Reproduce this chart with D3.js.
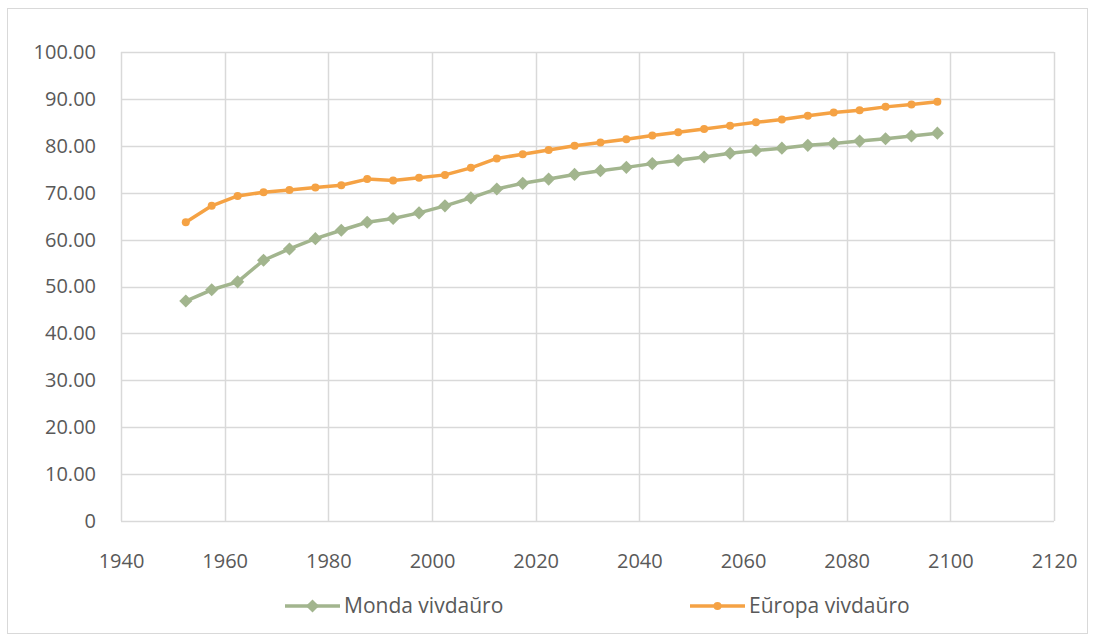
<!DOCTYPE html>
<html>
<head>
<meta charset="utf-8">
<script src="https://cdn.jsdelivr.net/npm/d3@7"></script>
<style>
  html, body { margin: 0; padding: 0; background: #fff; }
  svg { display: block; }
  text { font-family: "Open Sans", "Noto Sans", sans-serif; fill: #595959; }
</style>
</head>
<body>
<svg id="chart" width="1096" height="643"></svg>
<script>
// Mid-points of each five-year period
const years = [1952.5, 1957.5, 1962.5, 1967.5, 1972.5, 1977.5, 1982.5, 1987.5, 1992.5, 1997.5,
               2002.5, 2007.5, 2012.5, 2017.5, 2022.5, 2027.5, 2032.5, 2037.5, 2042.5, 2047.5,
               2052.5, 2057.5, 2062.5, 2067.5, 2072.5, 2077.5, 2082.5, 2087.5, 2092.5, 2097.5];
// Life expectancy, world
const mondaValues = [46.9, 49.3, 51.0, 55.6, 58.0, 60.2, 62.0, 63.7, 64.5, 65.7,
                     67.2, 68.9, 70.8, 72.0, 72.9, 73.9, 74.7, 75.4, 76.2, 76.9,
                     77.6, 78.4, 79.0, 79.5, 80.1, 80.5, 81.0, 81.5, 82.1, 82.7];
// Life expectancy, Europe
const europaValues = [63.7, 67.2, 69.3, 70.1, 70.6, 71.1, 71.6, 72.9, 72.6, 73.2,
                      73.8, 75.3, 77.3, 78.2, 79.1, 80.0, 80.7, 81.4, 82.2, 82.9,
                      83.6, 84.3, 85.0, 85.6, 86.4, 87.1, 87.6, 88.3, 88.8, 89.4];
const xTicks = [1940, 1960, 1980, 2000, 2020, 2040, 2060, 2080, 2100, 2120];
const yTicks = [0, 10, 20, 30, 40, 50, 60, 70, 80, 90, 100];
const seriesNames = ["Monda vivdaŭro", "Eŭropa vivdaŭro"];

const svg = d3.select("#chart");
const W = 1096, H = 643;
const margin = { left: 121, right: 42, top: 52, bottom: 122 };
const grid = "#d9d9d9";

// chart frame
svg.append("rect").attr("x", 7.5).attr("y", 8.5).attr("width", 1080).attr("height", 625)
  .attr("fill", "#fff").attr("stroke", grid).attr("stroke-width", 1);

const x = d3.scaleLinear().domain([1940, 2120]).range([margin.left, W - margin.right]);
const y = d3.scaleLinear().domain([0, 100]).range([H - margin.bottom, margin.top]);

// gridlines
const g = svg.append("g");
g.selectAll(".hg").data(yTicks).join("line")
  .attr("x1", x(1940)).attr("x2", x(2120))
  .attr("y1", d => Math.round(y(d)) + 0.5).attr("y2", d => Math.round(y(d)) + 0.5)
  .attr("stroke", grid).attr("stroke-width", 1.5);
g.selectAll(".vg").data(xTicks).join("line")
  .attr("x1", d => Math.round(x(d)) + 0.5).attr("x2", d => Math.round(x(d)) + 0.5)
  .attr("y1", y(0)).attr("y2", y(100))
  .attr("stroke", grid).attr("stroke-width", 1.5);

// axes (labels only, lines drawn as grid)
const yAxis = d3.axisLeft(y).tickValues(yTicks)
  .tickFormat(d => d === 0 ? "0" : d3.format(".2f")(d)).tickSize(0).tickPadding(25);
const ya = svg.append("g").attr("transform", `translate(${margin.left},0)`).call(yAxis);
ya.select(".domain").remove();
ya.selectAll("text").style("font-size", "20px").attr("fill", "#595959")
  .style("font-family", "'Open Sans', sans-serif");

const xAxis = d3.axisBottom(x).tickValues(xTicks).tickFormat(d3.format("d")).tickSize(0).tickPadding(33);
const xa = svg.append("g").attr("transform", `translate(0,${y(0)})`).call(xAxis);
xa.select(".domain").remove();
xa.selectAll("text").style("font-size", "20px").attr("fill", "#595959")
  .style("font-family", "'Open Sans', sans-serif");

const colors = ["#a2b58e", "#f5a244"];
const line = d3.line().x((d, i) => x(years[i])).y(d => y(d));
const diamond = d3.symbol().type(d3.symbolDiamond2).size(110);

// world series
svg.append("path").datum(mondaValues).attr("d", line)
  .attr("fill", "none").attr("stroke", colors[0]).attr("stroke-width", 3.5).attr("stroke-linejoin", "round");
svg.selectAll(".dm").data(mondaValues).join("path")
  .attr("d", diamond)
  .attr("transform", (d, i) => `translate(${x(years[i])},${y(d)})`)
  .attr("fill", colors[0]);

// Europe series
svg.append("path").datum(europaValues).attr("d", line)
  .attr("fill", "none").attr("stroke", colors[1]).attr("stroke-width", 3.5).attr("stroke-linejoin", "round");
svg.selectAll(".ce").data(europaValues).join("circle")
  .attr("cx", (d, i) => x(years[i])).attr("cy", d => y(d)).attr("r", 4)
  .attr("fill", colors[1]);

// legend
const legend = [
  { name: seriesNames[0], color: colors[0], x0: 285, shape: "diamond" },
  { name: seriesNames[1], color: colors[1], x0: 690, shape: "circle" }
];
const ly = 606;
legend.forEach(l => {
  svg.append("line").attr("x1", l.x0).attr("x2", l.x0 + 55).attr("y1", ly).attr("y2", ly)
    .attr("stroke", l.color).attr("stroke-width", 3.5);
  if (l.shape === "diamond") {
    svg.append("path").attr("d", diamond).attr("transform", `translate(${l.x0 + 27.5},${ly})`).attr("fill", l.color);
  } else {
    svg.append("circle").attr("cx", l.x0 + 27.5).attr("cy", ly).attr("r", 4).attr("fill", l.color);
  }
  svg.append("text").attr("x", l.x0 + 59).attr("y", ly).attr("dy", "0.35em")
    .style("font-size", "21px").text(l.name);
});
</script>
</body>
</html>
